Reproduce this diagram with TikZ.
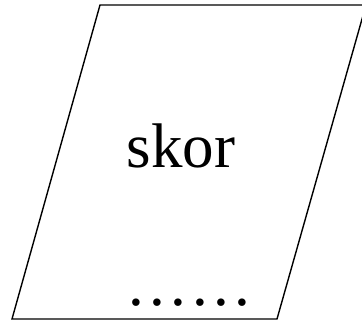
\documentclass[tikz,border=0pt]{standalone}
\usepackage{fontspec}
\setmainfont{Liberation Serif}
\begin{document}
\begin{tikzpicture}[x=1pt,y=1pt,
  shapeline/.style={draw=black,line width=1.4pt,line join=miter},
  bigtext/.style={font=\fontsize{63}{70}\selectfont,inner sep=0pt,anchor=base}]
\useasboundingbox (0,0) rectangle (362,320);
\clip (0,0) rectangle (362,320);
\coordinate (tl) at (100,315);
\coordinate (tr) at (366,315);
\coordinate (br) at (277,1);
\coordinate (bl) at (12,1);
\draw[shapeline] (tl) -- (tr) -- (br) -- (bl) -- cycle;
\node[bigtext] (label) at (181,152) {skor};
\node[bigtext] (dots) at (189.5,14) {.\kern5.6pt.\kern5.6pt.\kern5.6pt.\kern5.6pt.\kern5.6pt.};
\end{tikzpicture}
\end{document}
